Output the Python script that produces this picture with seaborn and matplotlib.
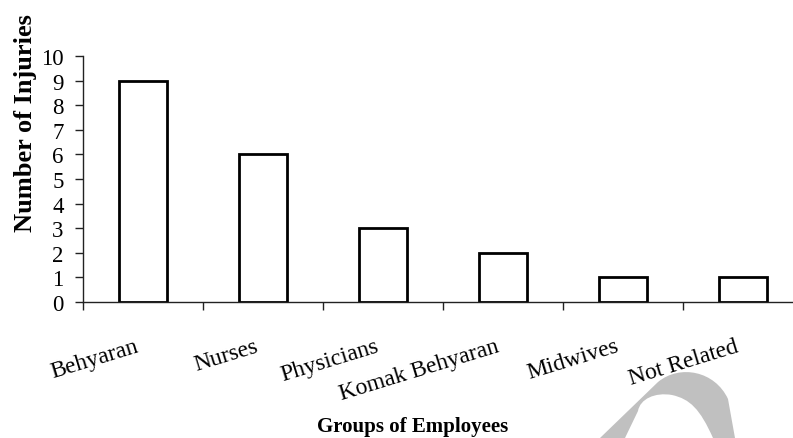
import matplotlib
matplotlib.use("Agg")
import matplotlib.pyplot as plt
import matplotlib.transforms as mtransforms
import seaborn as sns
import pandas as pd
from matplotlib.path import Path
from matplotlib.patches import PathPatch
from matplotlib.ticker import FixedLocator

categories = ["Behyaran", "Nurses", "Physicians", "Komak Behyaran", "Midwives", "Not Related"]
injuries = [9, 6, 3, 2, 1, 1]
y_ticks = list(range(0, 11))

sns.set_theme(style="white")
plt.rcParams["font.family"] = ["Liberation Serif", "DejaVu Serif"]
plt.rcParams.update({"text.color": "black", "axes.labelcolor": "black",
                     "xtick.color": "black", "ytick.color": "black"})

W, H = 793, 439
fig = plt.figure(figsize=(W / 100, H / 100), dpi=100)
ax = fig.add_axes([83 / W, 1 - 303 / H, (793 - 83) / W, (303 - 57) / H])

df = pd.DataFrame({"group": categories, "count": injuries})
sns.barplot(data=df, x="group", y="count", ax=ax, color="white",
            edgecolor="black", linewidth=2.0, width=0.4, saturation=1)

ax.set_ylim(0, 10)
ax.set_xlim(-0.5, -0.5 + (793 - 83) / 120)
ax.set_yticks(y_ticks)
ax.tick_params(axis="y", labelsize=16.5, length=6, width=1, color="#222222",
               labelcolor="black", pad=8, direction="out", left=True)
ax.set_xticks(range(len(categories)))
ax.set_xticklabels(categories, rotation=17, ha="right", va="top",
                   rotation_mode="anchor", fontsize=17, color="black")
ax.tick_params(axis="x", which="major", length=0, pad=24)
ax.xaxis.set_minor_locator(FixedLocator([i - 0.5 for i in range(len(categories) + 1)]))
ax.tick_params(axis="x", which="minor", length=6, width=1, color="#222222",
               direction="out", bottom=True)
shift = mtransforms.ScaledTranslation(-8 / 100, 0, fig.dpi_scale_trans)
for lab in ax.get_xticklabels():
    lab.set_transform(lab.get_transform() + shift)

for s in ["top", "right"]:
    ax.spines[s].set_visible(False)
for s in ["left", "bottom"]:
    ax.spines[s].set_color("#222222")
    ax.spines[s].set_linewidth(1)

ax.set_xlabel("")
ax.set_ylabel("Number of Injuries", fontsize=19, fontweight="bold", color="black")
ax.yaxis.set_label_coords(-46 / (793 - 83), (303 - 123) / (303 - 57))
fig.text(413 / W, 1 - 427 / H, "Groups of Employees", ha="center", va="center",
         fontsize=15, fontweight="bold", color="black")

# faint watermark shape in the lower right
def P(x, y):
    return (x / W, 1 - y / H)

verts = [P(600, 439), P(658, 383), P(680, 365), P(715, 372), P(728, 400),
         P(735, 439), P(713, 439), P(700, 410), P(690, 400), P(672, 396),
         P(655, 393), P(640, 400), P(638, 412), P(625, 439), P(600, 439)]
codes = [Path.MOVETO, Path.LINETO, Path.CURVE4, Path.CURVE4, Path.CURVE4,
         Path.LINETO, Path.LINETO, Path.CURVE4, Path.CURVE4, Path.CURVE4,
         Path.CURVE4, Path.CURVE4, Path.CURVE4, Path.LINETO, Path.CLOSEPOLY]
fig.patches.append(PathPatch(Path(verts, codes), transform=fig.transFigure,
                             facecolor="#c0c0c0", edgecolor="none", zorder=0))

fig.savefig("out.png", dpi=100, facecolor="white")
